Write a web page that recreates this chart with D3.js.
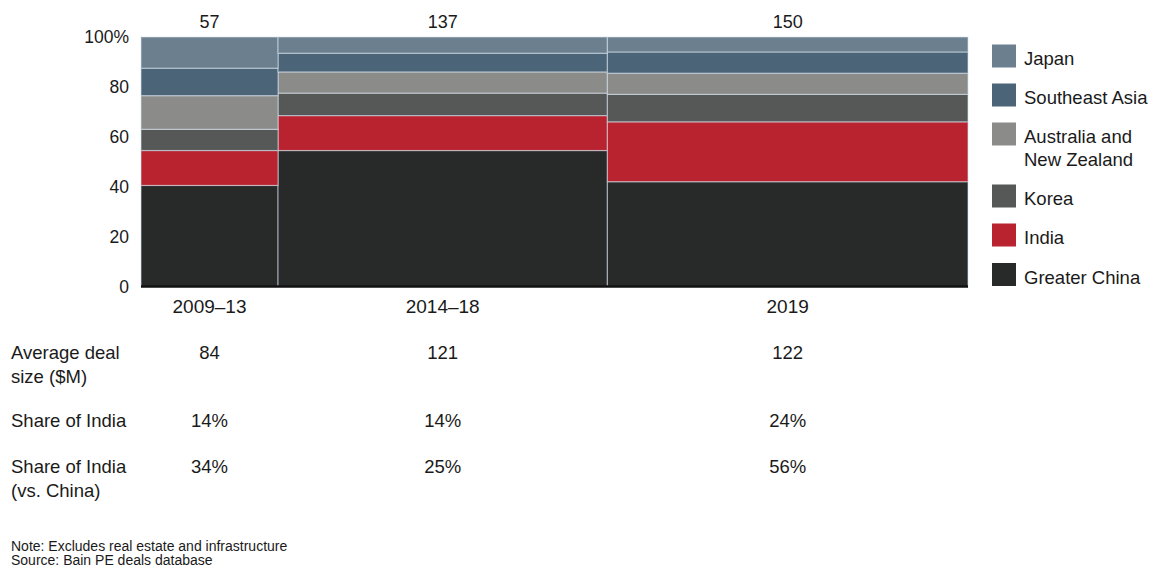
<!DOCTYPE html>
<html>
<head>
<meta charset="utf-8">
<script src="https://cdn.jsdelivr.net/npm/d3@7"></script>
<style>
  html, body { margin: 0; padding: 0; background: #fff; }
  svg { display: block; font-family: "Liberation Sans", Arial, Helvetica, sans-serif; }
</style>
</head>
<body>
<svg id="chart" width="1159" height="569"></svg>
<script>
// Periods and number of deals per period (bar widths)
const periods = ["2009–13", "2014–18", "2019"];
const dealCounts = [57, 137, 150];

// Regions, stacked bottom to top
const regions = ["Greater China", "India", "Korea", "Australia and New Zealand", "Southeast Asia", "Japan"];

// Share of deal count by region, percent, one value per period
const greaterChina = [40.5, 54.5, 42];
const india        = [14, 14, 24];
const korea        = [8.5, 9, 11];
const anz          = [13.5, 8.5, 8.5];
const southeastAsia = [11, 7.5, 8.5];
const japan        = [12.5, 6.5, 6];

// Rows of the table under the chart
const avgDealSize = ["84", "121", "122"];
const shareIndia = ["14%", "14%", "24%"];
const shareIndiaVsChina = ["34%", "25%", "56%"];

const yTicks = [0, 20, 40, 60, 80, 100];

const regionColors = {
  "Greater China": "#282a2a",
  "India": "#b8232f",
  "Korea": "#565857",
  "Australia and New Zealand": "#8b8b89",
  "Southeast Asia": "#4b6478",
  "Japan": "#6c7f8e"
};

const seriesByRegion = {
  "Greater China": greaterChina,
  "India": india,
  "Korea": korea,
  "Australia and New Zealand": anz,
  "Southeast Asia": southeastAsia,
  "Japan": japan
};

const svg = d3.select("#chart");

const plot = { left: 141, right: 968, top: 37, bottom: 286.5 };

// Marimekko x: cumulative deal counts
const totalDeals = d3.sum(dealCounts);
const x = d3.scaleLinear().domain([0, totalDeals]).range([plot.left, plot.right]);
const y = d3.scaleLinear().domain([0, 100]).range([plot.bottom, plot.top]);

const starts = dealCounts.map((d, i) => d3.sum(dealCounts.slice(0, i)));

const table = periods.map((p, i) => {
  const row = { period: p };
  regions.forEach(r => { row[r] = seriesByRegion[r][i]; });
  return row;
});

const stacked = d3.stack().keys(regions)(table);

const barsG = svg.append("g");
stacked.forEach(layer => {
  barsG.selectAll(null)
    .data(layer)
    .enter()
    .append("rect")
    .attr("x", (d, i) => x(starts[i]))
    .attr("width", (d, i) => x(starts[i] + dealCounts[i]) - x(starts[i]))
    .attr("y", d => y(d[1]))
    .attr("height", d => y(d[0]) - y(d[1]))
    .attr("fill", regionColors[layer.key])
    .attr("stroke", "rgba(215,228,238,0.55)")
    .attr("stroke-width", 1.2);
});

// Baseline
svg.append("line")
  .attr("x1", plot.left).attr("x2", plot.right)
  .attr("y1", y(0)).attr("y2", y(0))
  .attr("stroke", "#111").attr("stroke-width", 2.5);

// Y axis
const yAxis = d3.axisLeft(y)
  .tickValues(yTicks)
  .tickSize(0)
  .tickPadding(12)
  .tickFormat(d => d === 100 ? "100%" : d);

const yAxisG = svg.append("g")
  .attr("transform", `translate(${plot.left},0)`)
  .call(yAxis);
yAxisG.select(".domain").remove();
yAxisG.selectAll("text")
  .attr("font-family", "'Liberation Sans', Arial, sans-serif")
  .attr("font-size", 17.5)
  .attr("fill", "#1a1a1a");

const centers = dealCounts.map((d, i) => x(starts[i] + d / 2));

// Deal counts above columns
svg.selectAll(null).data(dealCounts).enter().append("text")
  .attr("x", (d, i) => centers[i])
  .attr("y", 22)
  .attr("dy", "0.35em")
  .attr("text-anchor", "middle")
  .attr("font-size", 18)
  .attr("fill", "#1a1a1a")
  .text(d => d);

// Period labels
svg.selectAll(null).data(periods).enter().append("text")
  .attr("x", (d, i) => centers[i])
  .attr("y", 306)
  .attr("dy", "0.35em")
  .attr("text-anchor", "middle")
  .attr("font-size", 19)
  .attr("fill", "#1a1a1a")
  .text(d => d);

// Legend
const legendItems = [
  { key: "Japan", lines: ["Japan"], cy: 56 },
  { key: "Southeast Asia", lines: ["Southeast Asia"], cy: 95 },
  { key: "Australia and New Zealand", lines: ["Australia and", "New Zealand"], cy: 134 },
  { key: "Korea", lines: ["Korea"], cy: 196 },
  { key: "India", lines: ["India"], cy: 235 },
  { key: "Greater China", lines: ["Greater China"], cy: 274.5 }
];
const legendG = svg.append("g");
legendItems.forEach(item => {
  legendG.append("rect")
    .attr("x", 992).attr("y", item.cy - 11.5)
    .attr("width", 24).attr("height", 23)
    .attr("fill", regionColors[item.key]);
  item.lines.forEach((line, j) => {
    legendG.append("text")
      .attr("x", 1024)
      .attr("y", item.cy + 3 + j * 23)
      .attr("dy", "0.35em")
      .attr("font-size", 18.5)
      .attr("fill", "#1a1a1a")
      .text(line);
  });
});

// Table under the chart
const rows = [
  { label: ["Average deal", "size ($M)"], values: avgDealSize, y: 353 },
  { label: ["Share of India"], values: shareIndia, y: 421 },
  { label: ["Share of India", "(vs. China)"], values: shareIndiaVsChina, y: 467 }
];
rows.forEach(row => {
  row.label.forEach((line, j) => {
    svg.append("text")
      .attr("x", 11)
      .attr("y", row.y + j * 23.5)
      .attr("dy", "0.35em")
      .attr("font-size", 18.5)
      .attr("fill", "#1a1a1a")
      .text(line);
  });
  svg.selectAll(null).data(row.values).enter().append("text")
    .attr("x", (d, i) => centers[i])
    .attr("y", row.y)
    .attr("dy", "0.35em")
    .attr("text-anchor", "middle")
    .attr("font-size", 18.5)
    .attr("fill", "#1a1a1a")
    .text(d => d);
});

// Footnotes
svg.append("text")
  .attr("x", 11).attr("y", 546).attr("dy", "0.35em")
  .attr("font-size", 14).attr("fill", "#1a1a1a")
  .text("Note: Excludes real estate and infrastructure");
svg.append("text")
  .attr("x", 11).attr("y", 560).attr("dy", "0.35em")
  .attr("font-size", 14).attr("fill", "#1a1a1a")
  .text("Source: Bain PE deals database");
</script>
</body>
</html>
